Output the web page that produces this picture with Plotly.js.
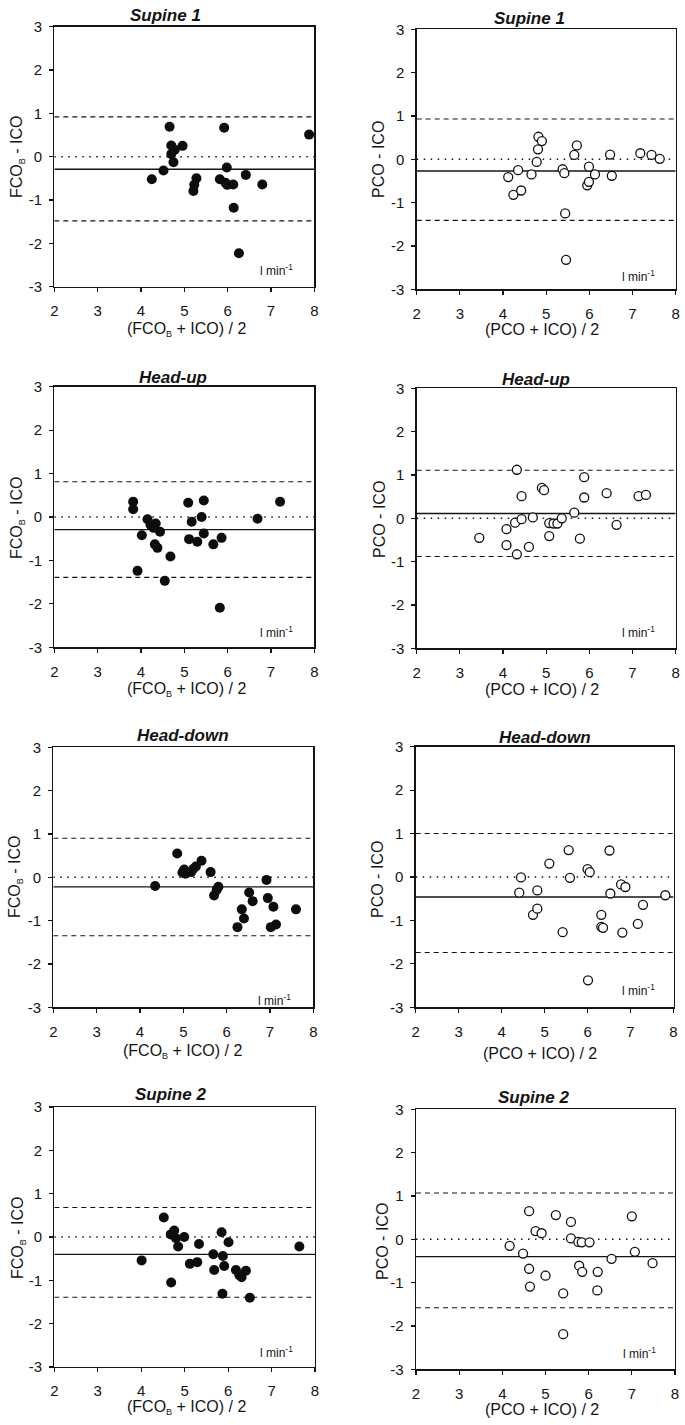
<!DOCTYPE html>
<html>
<head>
<meta charset="utf-8">
<script src="https://cdn.plot.ly/plotly-3.0.1.min.js"></script>
<style>html,body{margin:0;padding:0;background:#fff;}#chart{width:685px;height:1425px;}</style>
</head>
<body>
<div id="chart"></div>
<script>
// ---------- data ----------
const panelTitles = ["Supine 1", "Supine 1", "Head-up", "Head-up", "Head-down", "Head-down", "Supine 2", "Supine 2"];
const xTickVals = [2, 3, 4, 5, 6, 7, 8];
const yTickVals = [-3, -2, -1, 0, 1, 2, 3];

const supine1_fco_x = [4.25, 4.52, 4.66, 4.70, 4.78, 4.70, 4.75, 4.96, 5.21, 5.23, 5.28, 5.82, 5.92, 5.98, 5.95, 5.99, 6.13, 6.14, 6.26, 6.42, 6.80, 7.88];
const supine1_fco_y = [-0.52, -0.32, 0.69, 0.26, 0.16, 0.06, -0.13, 0.25, -0.79, -0.65, -0.50, -0.52, 0.67, -0.25, -0.60, -0.65, -0.64, -1.18, -2.23, -0.42, -0.64, 0.51];

const supine1_pco_x = [4.12, 4.24, 4.35, 4.42, 4.66, 4.78, 4.81, 4.82, 4.90, 5.38, 5.42, 5.44, 5.46, 5.65, 5.71, 5.95, 5.99, 5.99, 6.13, 6.48, 6.52, 7.18, 7.44, 7.63];
const supine1_pco_y = [-0.41, -0.82, -0.25, -0.72, -0.35, -0.06, 0.23, 0.52, 0.42, -0.23, -0.32, -1.25, -2.32, 0.10, 0.32, -0.60, -0.52, -0.17, -0.35, 0.11, -0.38, 0.14, 0.10, 0.01];

const headup_fco_x = [3.82, 3.82, 3.92, 4.02, 4.15, 4.22, 4.29, 4.34, 4.32, 4.38, 4.44, 4.55, 4.68, 5.09, 5.11, 5.17, 5.30, 5.40, 5.45, 5.45, 5.67, 5.86, 5.82, 6.69, 7.21];
const headup_fco_y = [0.35, 0.18, -1.24, -0.42, -0.05, -0.18, -0.25, -0.15, -0.63, -0.71, -0.34, -1.47, -0.91, 0.33, -0.51, -0.11, -0.57, 0.00, 0.38, -0.38, -0.63, -0.48, -2.09, -0.04, 0.35];

const headup_pco_x = [3.45, 4.08, 4.08, 4.28, 4.32, 4.32, 4.43, 4.43, 4.60, 4.69, 4.90, 4.95, 5.07, 5.07, 5.17, 5.26, 5.36, 5.65, 5.78, 5.88, 5.88, 6.40, 6.63, 7.14, 7.31];
const headup_pco_y = [-0.45, -0.25, -0.62, -0.10, 1.12, -0.83, -0.02, 0.51, -0.66, 0.02, 0.70, 0.65, -0.11, -0.41, -0.12, -0.12, 0.00, 0.13, -0.47, 0.95, 0.48, 0.58, -0.15, 0.51, 0.54];

const headdown_fco_x = [4.35, 4.86, 4.98, 5.02, 5.05, 5.18, 5.23, 5.29, 5.42, 5.63, 5.71, 5.81, 5.77, 6.25, 6.35, 6.40, 6.52, 6.60, 6.92, 6.95, 7.02, 7.08, 7.14, 7.60];
const headdown_fco_y = [-0.20, 0.55, 0.11, 0.18, 0.08, 0.12, 0.19, 0.25, 0.38, 0.12, -0.42, -0.22, -0.29, -1.15, -0.74, -0.95, -0.35, -0.55, -0.06, -0.48, -1.15, -0.68, -1.09, -0.74];

const headdown_pco_x = [4.41, 4.45, 4.73, 4.83, 4.83, 5.11, 5.42, 5.56, 5.59, 6.00, 6.05, 6.01, 6.32, 6.32, 6.36, 6.51, 6.53, 6.78, 6.88, 6.81, 7.17, 7.29, 7.81];
const headdown_pco_y = [-0.36, -0.01, -0.87, -0.31, -0.73, 0.31, -1.27, 0.62, -0.02, 0.18, 0.11, -2.38, -0.87, -1.15, -1.17, 0.61, -0.38, -0.17, -0.23, -1.28, -1.08, -0.64, -0.42];

const supine2_fco_x = [4.01, 4.52, 4.69, 4.68, 4.76, 4.80, 4.85, 4.99, 5.12, 5.29, 5.33, 5.66, 5.68, 5.85, 5.88, 5.91, 5.87, 6.01, 6.18, 6.26, 6.31, 6.41, 6.50, 7.64];
const supine2_fco_y = [-0.54, 0.45, -1.05, 0.06, 0.15, -0.03, -0.22, 0.00, -0.62, -0.58, -0.16, -0.40, -0.76, 0.11, -0.44, -0.67, -1.31, -0.12, -0.76, -0.88, -0.93, -0.78, -1.40, -0.22];

const supine2_pco_x = [4.17, 4.48, 4.62, 4.62, 4.64, 4.77, 4.91, 5.00, 5.24, 5.41, 5.41, 5.59, 5.59, 5.76, 5.78, 5.85, 5.84, 6.02, 6.21, 6.20, 6.53, 7.00, 7.07, 7.48];
const supine2_pco_y = [-0.15, -0.33, 0.65, -0.68, -1.09, 0.19, 0.14, -0.84, 0.56, -1.25, -2.19, 0.40, 0.02, -0.06, -0.61, -0.75, -0.07, -0.07, -0.75, -1.18, -0.45, 0.53, -0.29, -0.55];

// bias (solid), upper / lower limits of agreement (dashed), zero reference (dotted)
const biasLine = [-0.29, -0.27, -0.29, 0.11, -0.22, -0.46, -0.40, -0.40];
const upperLimit = [0.92, 0.93, 0.81, 1.11, 0.90, 1.00, 0.68, 1.07];
const lowerLimit = [-1.48, -1.41, -1.39, -0.88, -1.35, -1.74, -1.39, -1.58];
const zeroLine = [0, 0, 0, 0, 0, 0, 0, 0];
const lineX = [2, 8];

const subB = "<sub><span style=\"font-size:9px\">B</span></sub>";
const xLabelF = "(FCO" + subB + " + ICO) / 2";
const xLabelP = "(PCO + ICO) / 2";
const yLabelF = "FCO" + subB + " - ICO";
const yLabelP = "PCO - ICO";
const unitLabel = "l min<sup>-1</sup>";

// ---------- layout geometry (pixels) ----------
const W = 685, H = 1425;
const seriesX = [supine1_fco_x, supine1_pco_x, headup_fco_x, headup_pco_x, headdown_fco_x, headdown_pco_x, supine2_fco_x, supine2_pco_x];
const seriesY = [supine1_fco_y, supine1_pco_y, headup_fco_y, headup_pco_y, headdown_fco_y, headdown_pco_y, supine2_fco_y, supine2_pco_y];
const filled = [true, false, true, false, true, false, true, false];

// plot boxes: [left, right, top, bottom] in px
const boxes = [
  [54.3, 314.3, 26.7, 286.7],
  [416.7, 675.7, 29.3, 289.3],
  [54.3, 314.3, 386.7, 647.3],
  [416.7, 675.7, 388.3, 648.3],
  [53.3, 313.3, 747.3, 1007.3],
  [415.7, 673.5, 746.7, 1007.3],
  [54.3, 315.0, 1107, 1367],
  [416.0, 675.0, 1109.3, 1369.3]
];
// label positions px: title [x,y], xtitle [x,y], ytitle [x,y], unit [x,y]
const titlePos = [[165, 15], [529, 18], [173, 377], [536, 379], [183, 735], [545, 737], [170, 1094], [533, 1097]];
const xTitlePos = [[187, 329], [542, 329], [187, 689], [542, 690], [182, 1051], [540, 1053], [187, 1407], [542, 1409]];
const yTitlePos = [[17, 157], [378, 160], [17, 518], [379, 519], [15, 877], [377, 880], [18, 1238], [382, 1242]];
const unitPos = [[276, 270], [638, 276], [276, 632], [638, 632], [274, 1000], [638, 990], [276, 1352], [639, 1353]];

const FONT = "Liberation Sans, Arial, Helvetica, sans-serif";
const INK = "#141414";
const px2x = p => p / W;
const px2y = p => 1 - p / H;

const traces = [];
const layout = {
  width: W, height: H,
  margin: {l: 0, r: 0, t: 0, b: 0},
  paper_bgcolor: "#ffffff", plot_bgcolor: "#ffffff",
  showlegend: false,
  font: {family: FONT, color: INK},
  annotations: []
};

for (let i = 0; i < 8; i++) {
  const n = i === 0 ? "" : String(i + 1);
  const xa = "x" + n, ya = "y" + n;
  const b = boxes[i];
  layout["xaxis" + n] = {
    domain: [px2x(b[0]), px2x(b[1])],
    anchor: ya, range: [2, 8], tickvals: xTickVals, ticktext: xTickVals.map(String),
    showgrid: false, zeroline: false, showline: true, mirror: true,
    linecolor: INK, linewidth: 1.3, ticks: "outside", ticklen: 4, tickwidth: 1.2, tickcolor: INK,
    tickfont: {size: 15, family: FONT, color: INK}, ticklabelstandoff: 6, fixedrange: true
  };
  layout["yaxis" + n] = {
    domain: [px2y(b[3]), px2y(b[2])],
    anchor: xa, range: [-3, 3], tickvals: yTickVals, ticktext: yTickVals.map(String),
    showgrid: false, zeroline: false, showline: true, mirror: true,
    linecolor: INK, linewidth: 1.3, ticks: "outside", ticklen: 4, tickwidth: 1.2, tickcolor: INK,
    tickfont: {size: 15, family: FONT, color: INK}, ticklabelstandoff: 4, fixedrange: true
  };

  // reference lines
  const refs = [
    {v: zeroLine[i], dash: "1.5px,5.5px", w: 1.6},
    {v: upperLimit[i], dash: "5px,4px", w: 1.1},
    {v: lowerLimit[i], dash: "5px,4px", w: 1.1},
    {v: biasLine[i], dash: "solid", w: 1.4}
  ];
  refs.forEach(r => {
    traces.push({
      type: "scatter", mode: "lines", x: lineX, y: [r.v, r.v], xaxis: xa, yaxis: ya,
      line: {color: INK, width: r.w, dash: r.dash}, hoverinfo: "skip"
    });
  });

  // points
  traces.push({
    type: "scatter", mode: "markers", x: seriesX[i], y: seriesY[i], xaxis: xa, yaxis: ya,
    cliponaxis: false,
    marker: filled[i]
      ? {size: 10, color: "#0d0d0d", line: {width: 0}}
      : {size: 9, color: "#ffffff", line: {width: 1.3, color: "#111"}}
  });

  const isF = filled[i];
  layout.annotations.push(
    {xref: "paper", yref: "paper", x: px2x(titlePos[i][0]), y: px2y(titlePos[i][1]), xanchor: "center", yanchor: "middle",
     text: "<b><i>" + panelTitles[i] + "</i></b>", showarrow: false, font: {size: 17, family: FONT, color: INK}},
    {xref: "paper", yref: "paper", x: px2x(xTitlePos[i][0]), y: px2y(xTitlePos[i][1]), xanchor: "center", yanchor: "middle",
     text: isF ? xLabelF : xLabelP, showarrow: false, font: {size: 16, family: FONT, color: INK}},
    {xref: "paper", yref: "paper", x: px2x(yTitlePos[i][0]), y: px2y(yTitlePos[i][1]), xanchor: "center", yanchor: "middle",
     text: isF ? yLabelF : yLabelP, textangle: -90, showarrow: false, font: {size: 16, family: FONT, color: INK}},
    {xref: "paper", yref: "paper", x: px2x(unitPos[i][0]), y: px2y(unitPos[i][1]), xanchor: "center", yanchor: "middle",
     text: unitLabel, showarrow: false, font: {size: 12, family: FONT, color: INK}}
  );
}

Plotly.newPlot("chart", traces, layout, {staticPlot: true, displayModeBar: false});
</script>
</body>
</html>
